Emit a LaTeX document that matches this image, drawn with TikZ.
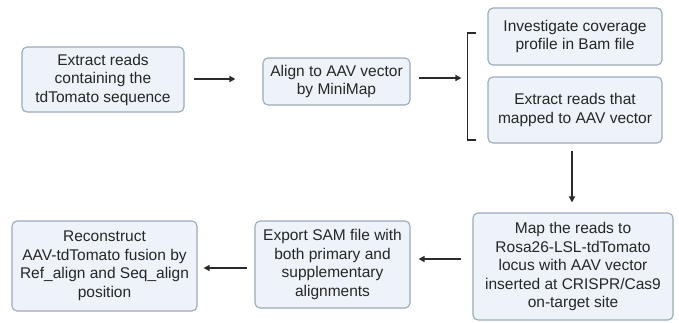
\documentclass[tikz,border=0pt]{standalone}
\usepackage{fontspec}
\setmainfont{Liberation Sans}
\usetikzlibrary{arrows.meta,calc}
\definecolor{boxfill}{HTML}{EEF2F9}
\definecolor{boxline}{HTML}{9AAABD}
\definecolor{arrowcol}{HTML}{2A2A2A}
\begin{document}
\begin{tikzpicture}[x=1pt,y=-1pt,
  stepbox/.style={draw=boxline,line width=1.1pt,fill=boxfill,rounded corners=5pt,
    align=center,inner sep=2pt,font=\fontsize{15.5}{18.5}\selectfont,text=black!85},
  flow/.style={draw=arrowcol,line width=1.4pt,-{Triangle[length=6pt,width=6pt]}},
  brk/.style={draw=arrowcol,line width=1.4pt}]
\useasboundingbox (0,0) rectangle (679,322);
% process steps
\node[stepbox,minimum width=162pt,minimum height=65pt] (b1) at (103,79.5)
  {Extract reads\\containing the\\tdTomato sequence};
\node[stepbox,minimum width=147pt,minimum height=47pt] (b2) at (336.5,81.5)
  {Align to AAV vector\\by MiniMap};
\node[stepbox,minimum width=174pt,minimum height=57pt] (b3) at (575,36.5)
  {Investigate coverage\\profile in Bam file};
\node[stepbox,minimum width=174pt,minimum height=66pt] (b4) at (575,110)
  {Extract reads that\\mapped to AAV vector};
\node[stepbox,minimum width=200pt,minimum height=107pt] (b5) at (573,266.5)
  {Map the reads to\\Rosa26-LSL-tdTomato\\locus with AAV vector\\inserted at CRISPR/Cas9\\on-target site};
\node[stepbox,minimum width=155pt,minimum height=87pt] (b6) at (332.5,264.5)
  {Export SAM file with\\both primary and\\supplementary\\alignments};
\node[stepbox,minimum width=185pt,minimum height=90pt] (b7) at (104.5,266)
  {Reconstruct\\AAV-tdTomato fusion by\\Ref\_align and Seq\_align\\position};
% bracket grouping the two inspection steps
\coordinate (bt) at ($(b3.west)+(-20,-3.5)$);
\coordinate (bb) at ($(b4.west)+(-20,30)$);
\draw[brk] ($(bt)+(9,0)$) -- (bt) -- (bb) -- ($(bb)+(9,0)$);
% connectors
\draw[flow,shorten <=9pt,shorten >=27pt] (b1.east |- 0,79) -- (b2.west |- 0,79);
\draw[flow,shorten <=8pt,shorten >=6pt] (b2.east |- 0,78) -- (bt |- 0,78);
\draw[flow,shorten <=7pt,shorten >=10pt] (b4.south -| 572,0) -- (b5.north -| 572,0);
\draw[flow,shorten <=11pt,shorten >=8pt] (b5.west |- 0,259) -- (b6.east |- 0,259);
\draw[flow,shorten <=7pt,shorten >=6pt] (b6.west |- 0,268) -- (b7.east |- 0,268);
\end{tikzpicture}
\end{document}
